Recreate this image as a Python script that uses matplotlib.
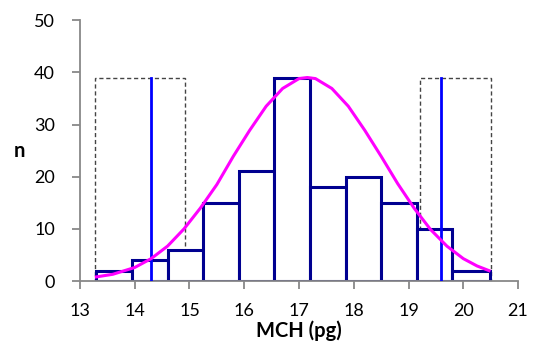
import numpy as np
import matplotlib.pyplot as plt
from matplotlib.patches import Rectangle

# Histogram of MCH values
bin_edges = [13.3, 13.95, 14.6, 15.25, 15.9, 16.55, 17.2, 17.85, 18.5, 19.15, 19.8, 20.48]
counts = [2, 4, 6, 15, 21, 39, 18, 20, 15, 10, 2]

# fitted curve
curve_x = [13.3, 13.6, 14.0, 14.3, 14.6, 14.9, 15.2, 15.5, 15.8, 16.1, 16.4, 16.7, 17.0,
           17.15, 17.3, 17.6, 17.9, 18.2, 18.5, 18.8, 19.1, 19.4, 19.7, 20.0, 20.25, 20.47]
curve_y = [0.8, 1.3, 2.6, 4.3, 6.7, 10.0, 14.0, 18.5, 23.9, 28.9, 33.5, 36.9, 38.8,
           39.0, 38.8, 36.9, 33.5, 28.9, 23.9, 18.7, 14.0, 9.9, 6.7, 4.3, 2.9, 2.0]

# reference limits and their ranges
limit_lines = [14.3, 19.6]
limit_boxes = [(13.28, 14.92), (19.21, 20.5)]
line_top = 39

plt.rcParams['font.family'] = ['Lato', 'DejaVu Sans']

fig = plt.figure(figsize=(5.33, 3.47), dpi=100)
ax = fig.add_axes([0.150, 0.19, 0.822, 0.752])

for lo, hi in limit_boxes:
    ax.add_patch(Rectangle((lo, 0), hi - lo, line_top, fill=False,
                           edgecolor='#444444', linestyle=(0, (3, 2)), linewidth=1.0, zorder=1))

widths = np.diff(bin_edges)
ax.bar(bin_edges[:-1], counts, width=widths, align='edge', color='white',
       edgecolor='#000090', linewidth=2.2, zorder=2)

for xv in limit_lines:
    ax.plot([xv, xv], [0, line_top], color='#0000ff', linewidth=2.0, zorder=3)

ax.plot(curve_x, curve_y, color='#ff00ff', linewidth=2.2, zorder=4)

ax.set_xlim(13, 21)
ax.set_ylim(0, 50)
ax.set_xticks(range(13, 22))
ax.set_yticks(range(0, 51, 10))

for s in ['top', 'right']:
    ax.spines[s].set_visible(False)
for s in ['left', 'bottom']:
    ax.spines[s].set_color('#888888')
    ax.spines[s].set_linewidth(1.3)
ax.tick_params(axis='both', colors='#888888', length=6, width=1.3, direction='out',
               labelsize=13, labelcolor='black')
ax.tick_params(axis='x', pad=10)
ax.tick_params(axis='y', pad=12)

ax.set_xlabel('MCH (pg)', fontsize=14.5, fontweight='bold')
ax.xaxis.set_label_coords(0.5, -0.19, transform=ax.transAxes)
ax.xaxis.label.set_va('center')
ax.set_ylabel('n', fontsize=14.5, fontweight='bold', rotation=0, va='center')
ax.yaxis.set_label_coords(-0.138, 0.5)

fig.savefig('out.png', dpi=100)
